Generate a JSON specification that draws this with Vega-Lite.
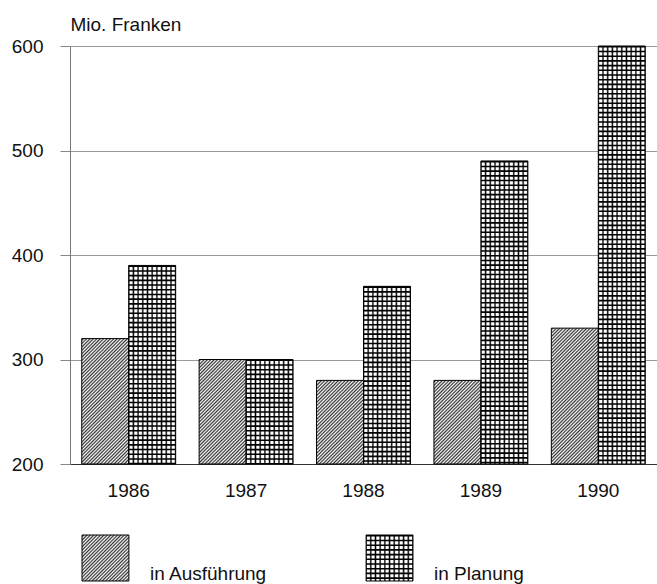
{
  "$schema": "https://vega.github.io/schema/vega-lite/v6.json",
  "padding": {"left": 11, "top": 15, "right": 0, "bottom": 0},
  "autosize": {"type": "pad"},
  "background": "#ffffff",
  "bounds": "flush",
  "spacing": 71,
  "params": [
    {"name": "diagStops", "value": [
      {"offset": 0, "color": "#fff"}, {"offset": 0.009259, "color": "#333"}, {"offset": 0.018519, "color": "#fff"}, {"offset": 0.027778, "color": "#333"},
      {"offset": 0.037037, "color": "#fff"}, {"offset": 0.046296, "color": "#333"}, {"offset": 0.055556, "color": "#fff"}, {"offset": 0.064815, "color": "#333"},
      {"offset": 0.074074, "color": "#fff"}, {"offset": 0.083333, "color": "#333"}, {"offset": 0.092593, "color": "#fff"}, {"offset": 0.101852, "color": "#333"},
      {"offset": 0.111111, "color": "#fff"}, {"offset": 0.12037, "color": "#333"}, {"offset": 0.12963, "color": "#fff"}, {"offset": 0.138889, "color": "#333"},
      {"offset": 0.148148, "color": "#fff"}, {"offset": 0.157407, "color": "#333"}, {"offset": 0.166667, "color": "#fff"}, {"offset": 0.175926, "color": "#333"},
      {"offset": 0.185185, "color": "#fff"}, {"offset": 0.194444, "color": "#333"}, {"offset": 0.203704, "color": "#fff"}, {"offset": 0.212963, "color": "#333"},
      {"offset": 0.222222, "color": "#fff"}, {"offset": 0.231481, "color": "#333"}, {"offset": 0.240741, "color": "#fff"}, {"offset": 0.25, "color": "#333"},
      {"offset": 0.259259, "color": "#fff"}, {"offset": 0.268519, "color": "#333"}, {"offset": 0.277778, "color": "#fff"}, {"offset": 0.287037, "color": "#333"},
      {"offset": 0.296296, "color": "#fff"}, {"offset": 0.305556, "color": "#333"}, {"offset": 0.314815, "color": "#fff"}, {"offset": 0.324074, "color": "#333"},
      {"offset": 0.333333, "color": "#fff"}, {"offset": 0.342593, "color": "#333"}, {"offset": 0.351852, "color": "#fff"}, {"offset": 0.361111, "color": "#333"},
      {"offset": 0.37037, "color": "#fff"}, {"offset": 0.37963, "color": "#333"}, {"offset": 0.388889, "color": "#fff"}, {"offset": 0.398148, "color": "#333"},
      {"offset": 0.407407, "color": "#fff"}, {"offset": 0.416667, "color": "#333"}, {"offset": 0.425926, "color": "#fff"}, {"offset": 0.435185, "color": "#333"},
      {"offset": 0.444444, "color": "#fff"}, {"offset": 0.453704, "color": "#333"}, {"offset": 0.462963, "color": "#fff"}, {"offset": 0.472222, "color": "#333"},
      {"offset": 0.481481, "color": "#fff"}, {"offset": 0.490741, "color": "#333"}, {"offset": 0.5, "color": "#fff"}, {"offset": 0.509259, "color": "#333"},
      {"offset": 0.518519, "color": "#fff"}, {"offset": 0.527778, "color": "#333"}, {"offset": 0.537037, "color": "#fff"}, {"offset": 0.546296, "color": "#333"},
      {"offset": 0.555556, "color": "#fff"}, {"offset": 0.564815, "color": "#333"}, {"offset": 0.574074, "color": "#fff"}, {"offset": 0.583333, "color": "#333"},
      {"offset": 0.592593, "color": "#fff"}, {"offset": 0.601852, "color": "#333"}, {"offset": 0.611111, "color": "#fff"}, {"offset": 0.62037, "color": "#333"},
      {"offset": 0.62963, "color": "#fff"}, {"offset": 0.638889, "color": "#333"}, {"offset": 0.648148, "color": "#fff"}, {"offset": 0.657407, "color": "#333"},
      {"offset": 0.666667, "color": "#fff"}, {"offset": 0.675926, "color": "#333"}, {"offset": 0.685185, "color": "#fff"}, {"offset": 0.694444, "color": "#333"},
      {"offset": 0.703704, "color": "#fff"}, {"offset": 0.712963, "color": "#333"}, {"offset": 0.722222, "color": "#fff"}, {"offset": 0.731481, "color": "#333"},
      {"offset": 0.740741, "color": "#fff"}, {"offset": 0.75, "color": "#333"}, {"offset": 0.759259, "color": "#fff"}, {"offset": 0.768519, "color": "#333"},
      {"offset": 0.777778, "color": "#fff"}, {"offset": 0.787037, "color": "#333"}, {"offset": 0.796296, "color": "#fff"}, {"offset": 0.805556, "color": "#333"},
      {"offset": 0.814815, "color": "#fff"}, {"offset": 0.824074, "color": "#333"}, {"offset": 0.833333, "color": "#fff"}, {"offset": 0.842593, "color": "#333"},
      {"offset": 0.851852, "color": "#fff"}, {"offset": 0.861111, "color": "#333"}, {"offset": 0.87037, "color": "#fff"}, {"offset": 0.87963, "color": "#333"},
      {"offset": 0.888889, "color": "#fff"}, {"offset": 0.898148, "color": "#333"}, {"offset": 0.907407, "color": "#fff"}, {"offset": 0.916667, "color": "#333"},
      {"offset": 0.925926, "color": "#fff"}, {"offset": 0.935185, "color": "#333"}, {"offset": 0.944444, "color": "#fff"}, {"offset": 0.953704, "color": "#333"},
      {"offset": 0.962963, "color": "#fff"}, {"offset": 0.972222, "color": "#333"}, {"offset": 0.981481, "color": "#fff"}, {"offset": 0.990741, "color": "#333"},
      {"offset": 1, "color": "#fff"}
    ]},
    {"name": "gridStops", "value": [
      {"offset": 0, "color": "#000"}, {"offset": 0.03, "color": "#fff"}, {"offset": 0.07, "color": "#fff"},
      {"offset": 0.1, "color": "#000"}, {"offset": 0.13, "color": "#fff"}, {"offset": 0.17, "color": "#fff"},
      {"offset": 0.2, "color": "#000"}, {"offset": 0.23, "color": "#fff"}, {"offset": 0.27, "color": "#fff"},
      {"offset": 0.3, "color": "#000"}, {"offset": 0.33, "color": "#fff"}, {"offset": 0.37, "color": "#fff"},
      {"offset": 0.4, "color": "#000"}, {"offset": 0.43, "color": "#fff"}, {"offset": 0.47, "color": "#fff"},
      {"offset": 0.5, "color": "#000"}, {"offset": 0.53, "color": "#fff"}, {"offset": 0.57, "color": "#fff"},
      {"offset": 0.6, "color": "#000"}, {"offset": 0.63, "color": "#fff"}, {"offset": 0.67, "color": "#fff"},
      {"offset": 0.7, "color": "#000"}, {"offset": 0.73, "color": "#fff"}, {"offset": 0.77, "color": "#fff"},
      {"offset": 0.8, "color": "#000"}, {"offset": 0.83, "color": "#fff"}, {"offset": 0.87, "color": "#fff"},
      {"offset": 0.9, "color": "#000"}, {"offset": 0.93, "color": "#fff"}, {"offset": 0.97, "color": "#fff"},
      {"offset": 1, "color": "#000"}
    ]}
  ],
  "vconcat": [
    {
      "width": 587,
      "height": 418,
      "data": {"values": [
        {"year": "1986", "series": "in Ausführung", "value": 320},
        {"year": "1986", "series": "in Planung", "value": 390},
        {"year": "1987", "series": "in Ausführung", "value": 300},
        {"year": "1987", "series": "in Planung", "value": 300},
        {"year": "1988", "series": "in Ausführung", "value": 280},
        {"year": "1988", "series": "in Planung", "value": 370},
        {"year": "1989", "series": "in Ausführung", "value": 280},
        {"year": "1989", "series": "in Planung", "value": 490},
        {"year": "1990", "series": "in Ausführung", "value": 330},
        {"year": "1990", "series": "in Planung", "value": 600}
      ]},
      "encoding": {
        "x": {"field": "year", "type": "nominal",
          "scale": {"paddingInner": 0.2, "paddingOuter": 0.1},
          "axis": {"title": null, "labelAngle": 0, "labelFontSize": 19, "labelPadding": 17, "ticks": false, "domainColor": "#333", "domainWidth": 1, "grid": false, "labelColor": "#111"}},
        "xOffset": {"field": "series", "type": "nominal", "scale": {"domain": ["in Ausführung", "in Planung"]}},
        "y": {"field": "value", "type": "quantitative",
          "scale": {"domain": [200, 600], "nice": false, "zero": false},
          "axis": {"values": [200, 300, 400, 500, 600], "title": "Mio. Franken", "titleAngle": 0, "titleX": 0, "titleY": -16,
            "titleAlign": "left", "titleBaseline": "alphabetic", "titleFontSize": 19, "titleFontWeight": "normal", "titleColor": "#111",
            "labelFontSize": 19, "labelPadding": 17, "labelColor": "#111", "tickSize": 10, "tickColor": "#888",
            "domainColor": "#777", "grid": true, "gridColor": "#999"}},
        "y2": {"datum": 200}
      },
      "layer": [
        {
          "transform": [{"filter": "datum.series === 'in Ausführung'"}],
          "mark": {"type": "bar", "stroke": "#000", "strokeWidth": 1,
            "fill": {"expr": "{gradient: 'linear', x1: 0, y1: 0, x2: 183 * 46.96 / (46.96 * 46.96 + pow((datum.value - 200) * 1.045, 2)), y2: 183 * (datum.value - 200) * 1.045 / (46.96 * 46.96 + pow((datum.value - 200) * 1.045, 2)), stops: diagStops}"}}
        },
        {
          "transform": [{"filter": "datum.series === 'in Planung'"}],
          "mark": {"type": "bar", "stroke": "#000", "strokeWidth": 1,
            "fill": {"expr": "{gradient: 'linear', x1: 0, y1: 0, x2: 1, y2: 0, stops: gridStops}"}}
        },
        {
          "transform": [{"filter": "datum.series === 'in Planung'"}],
          "mark": {"type": "rule", "color": "#000", "strokeWidth": 46.96, "strokeDash": [1.6, 3.1]}
        }
      ]
    },
    {
      "width": 355,
      "height": 46,
      "data": {"values": [
        {"series": "in Ausführung"},
        {"series": "in Planung"}
      ]},
      "encoding": {
        "x": {"field": "series", "type": "nominal", "scale": {"paddingInner": 0.835, "paddingOuter": 0.0423}, "axis": null}
      },
      "layer": [
        {
          "transform": [{"filter": "datum.series === 'in Ausführung'"}],
          "mark": {"type": "bar", "stroke": "#000", "strokeWidth": 1,
            "fill": {"expr": "{gradient: 'linear', x1: 0, y1: 0, x2: 1.9888, y2: 1.9519, stops: diagStops}"}}
        },
        {
          "transform": [{"filter": "datum.series === 'in Planung'"}],
          "mark": {"type": "bar", "stroke": "#000", "strokeWidth": 1,
            "fill": {"expr": "{gradient: 'linear', x1: 0, y1: 0, x2: 1, y2: 0, stops: gridStops}"}}
        },
        {
          "transform": [{"filter": "datum.series === 'in Planung'"}],
          "mark": {"type": "rule", "color": "#000", "strokeWidth": 46.87, "strokeDash": [1.6, 3.1]}
        },
        {
          "mark": {"type": "text", "align": "left", "baseline": "alphabetic", "dx": 44.5, "dy": 22, "fontSize": 19, "color": "#111"},
          "encoding": {"text": {"field": "series"}}
        }
      ]
    }
  ],
  "config": {
    "font": "Liberation Sans",
    "view": {"stroke": null},
    "axis": {"labelFont": "Liberation Sans", "titleFont": "Liberation Sans"}
  }
}
